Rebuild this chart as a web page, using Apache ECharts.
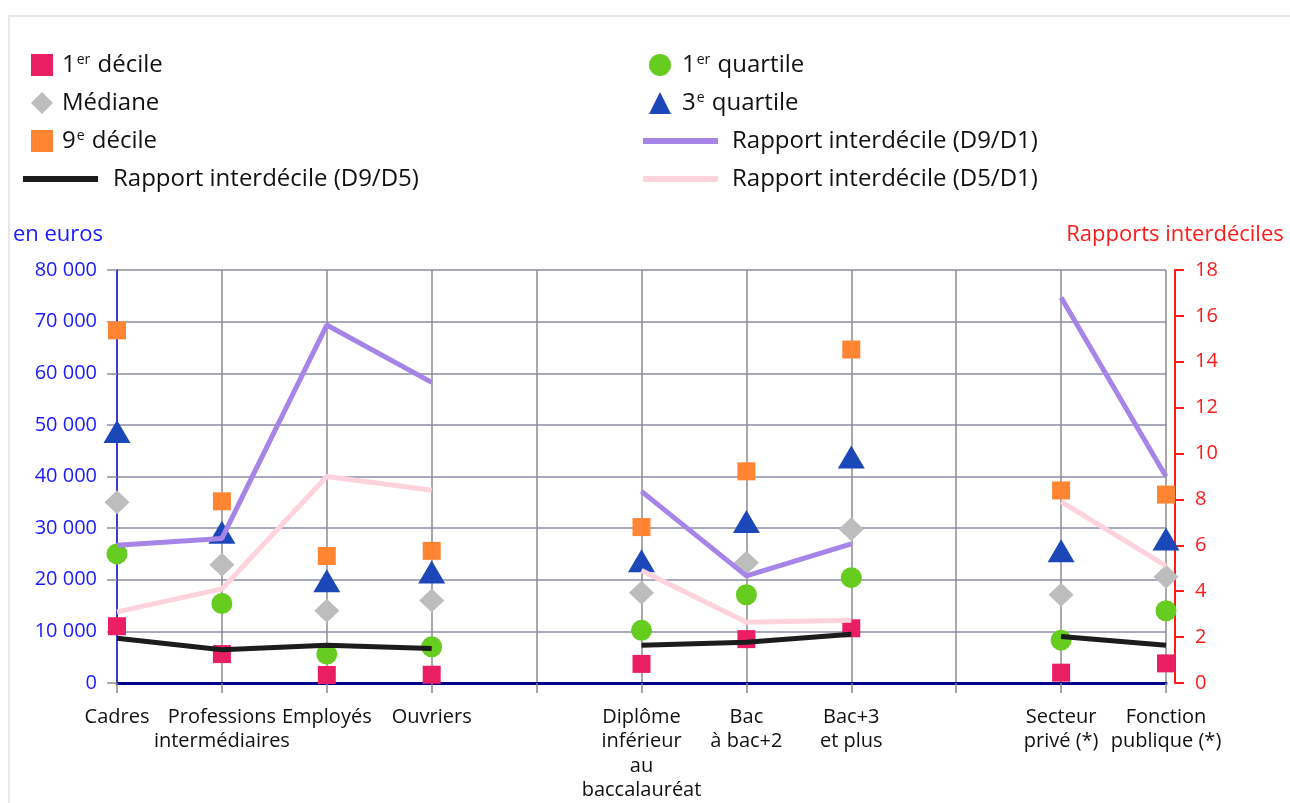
<!DOCTYPE html>
<html><head><meta charset="utf-8">
<script src="https://cdn.jsdelivr.net/npm/echarts@6/dist/echarts.min.js"></script>
<style>
html,body{margin:0;padding:0;background:#fff;width:1290px;height:803px;overflow:hidden;}
#frame{position:absolute;left:8px;top:15px;width:1280px;height:786px;border-left:2px solid #e8e8e8;border-top:2px solid #e8e8e8;}
#main{position:absolute;left:0;top:0;width:1290px;height:803px;}
</style></head>
<body>
<div id="frame"></div>
<div id="main"></div>
<script>
var categories = ['Cadres','Professions\nintermédiaires','Employés','Ouvriers',' ','Diplôme\ninférieur\nau\nbaccalauréat','Bac\nà bac+2','Bac+3\net plus','  ','Secteur\nprivé (*)','Fonction\npublique (*)'];
var leftTicks = [0,10000,20000,30000,40000,50000,60000,70000,80000];
var rightTicks = [0,2,4,6,8,10,12,14,16,18];
var decile1 = [11000,5600,1550,1600,null,3700,8500,10600,null,2000,3800];
var quartile1 = [25000,15400,5600,7000,null,10200,17100,20400,null,8300,14000];
var mediane = [35000,22900,14000,16000,null,17500,23300,29800,null,17100,20600];
var quartile3 = [48700,29200,19800,21500,null,23700,31300,43800,null,25600,27900];
var decile9 = [68300,35200,24600,25600,null,30200,41000,64600,null,37300,36500];
var rapportD9D1 = [6.0,6.3,15.6,13.1,null,8.35,4.67,6.06,null,16.8,9.0];
var rapportD5D1 = [3.1,4.1,9.0,8.4,null,4.9,2.65,2.73,null,7.9,5.1];
var rapportD9D5 = [1.95,1.45,1.65,1.5,null,1.65,1.78,2.12,null,2.03,1.65];

var FONT = 'Open Sans';
var chart = echarts.init(document.getElementById('main'), null, {renderer:'canvas'});
function fmtLegend(name){
  return name.replace('1er','1{sup|er}').replace('9e','9{sup|e}').replace('3e','3{sup|e}');
}
function legendText(padLeft){
  return {fontFamily:FONT,fontSize:24,color:'#111',lineHeight:28,padding:[0,0,0,padLeft],
    rich:{sup:{fontFamily:FONT,fontSize:14,color:'#111',verticalAlign:'top',lineHeight:16,padding:[2,1,0,1]}}};
}
function fmtNum(v){ return String(v).replace(/\B(?=(\d{3})+(?!\d))/g,' '); }

var option = {
  animation:false,
  backgroundColor:'transparent',
  textStyle:{fontFamily:FONT},
  legend:[
    {orient:'vertical',left:26,top:46,itemWidth:22,itemHeight:22,itemGap:10,
     data:['1er décile','Médiane','9e décile'],formatter:fmtLegend,textStyle:legendText(4),selectedMode:false},
    {orient:'vertical',left:644,top:46,itemWidth:22,itemHeight:22,itemGap:10,
     data:['1er quartile','3e quartile'],formatter:fmtLegend,textStyle:legendText(6),selectedMode:false},
    {orient:'vertical',left:18,top:160,itemWidth:75,itemHeight:6,itemGap:10,icon:'rect',
     data:['Rapport interdécile (D9/D5)'],textStyle:legendText(10),selectedMode:false},
    {orient:'vertical',left:638,top:122,itemWidth:75,itemHeight:6,itemGap:10,icon:'rect',
     data:['Rapport interdécile (D9/D1)','Rapport interdécile (D5/D1)'],textStyle:legendText(9),selectedMode:false}
  ],
  grid:{left:117,right:124,top:270,bottom:117,containLabel:false},
  xAxis:{
    type:'category',data:categories,boundaryGap:false,
    axisLine:{show:true,lineStyle:{color:'#00008b',width:3}},
    axisTick:{show:true,length:10,lineStyle:{color:'#888',width:1.5}},
    axisLabel:{color:'#111',fontFamily:FONT,fontSize:20,lineHeight:24.5,margin:22,interval:0},
    splitLine:{show:true,lineStyle:{color:'#8c8c8c',width:1.5}}
  },
  yAxis:[
    {type:'value',min:leftTicks[0],max:leftTicks[leftTicks.length-1],interval:leftTicks[1]-leftTicks[0],
     name:'en euros',nameLocation:'end',nameGap:24,
     nameTextStyle:{color:'#1a1aff',fontFamily:FONT,fontSize:22,align:'right',padding:[0,14,0,0]},
     axisLine:{show:true,lineStyle:{color:'#3a3ad8',width:2}},
     axisTick:{show:true,length:10,lineStyle:{color:'#8c8ca8',width:1.5}},
     axisLabel:{color:'#1a1aff',fontFamily:FONT,fontSize:20,margin:20,formatter:fmtNum},
     splitLine:{show:true,lineStyle:{color:'#8c8ca8',width:1.5}}},
    {type:'value',min:rightTicks[0],max:rightTicks[rightTicks.length-1],interval:rightTicks[1]-rightTicks[0],
     position:'right',offset:9,
     name:'Rapports interdéciles',nameLocation:'end',nameGap:24,
     nameTextStyle:{color:'#ff1a1a',fontFamily:FONT,fontSize:22,align:'center'},
     axisLine:{show:true,lineStyle:{color:'#ff1a1a',width:2}},
     axisTick:{show:true,length:9,lineStyle:{color:'#ff1a1a',width:2}},
     axisLabel:{color:'#ff1a1a',fontFamily:FONT,fontSize:20,margin:20},
     splitLine:{show:false}}
  ],
  series:[
    {name:'1er décile',type:'scatter',data:decile1,symbol:'rect',symbolSize:18,itemStyle:{color:'#ea1f63',opacity:1},z:3},
    {name:'Médiane',type:'scatter',data:mediane,symbol:'diamond',symbolSize:[25,24],itemStyle:{color:'#bdbdbd',opacity:1},z:3},
    {name:'9e décile',type:'scatter',data:decile9,symbol:'rect',symbolSize:18,itemStyle:{color:'#ff8533',opacity:1},z:3},
    {name:'1er quartile',type:'scatter',data:quartile1,symbol:'circle',symbolSize:21,itemStyle:{color:'#66cc1f',opacity:1},z:3},
    {name:'3e quartile',type:'scatter',data:quartile3,symbol:'triangle',symbolSize:[27,23],itemStyle:{color:'#1c47b8',opacity:1},z:3},
    {name:'Rapport interdécile (D9/D1)',type:'line',yAxisIndex:1,data:rapportD9D1,symbol:'none',connectNulls:false,lineStyle:{color:'#a684e8',width:5},itemStyle:{color:'#a684e8'},z:4},
    {name:'Rapport interdécile (D5/D1)',type:'line',yAxisIndex:1,data:rapportD5D1,symbol:'none',connectNulls:false,lineStyle:{color:'#ffd3de',width:5},itemStyle:{color:'#ffd3de'},z:4},
    {name:'Rapport interdécile (D9/D5)',type:'line',yAxisIndex:1,data:rapportD9D5,symbol:'none',connectNulls:false,lineStyle:{color:'#1c1c1c',width:5},itemStyle:{color:'#1c1c1c'},z:4}
  ]
};
chart.setOption(option);
</script>
</body></html>
